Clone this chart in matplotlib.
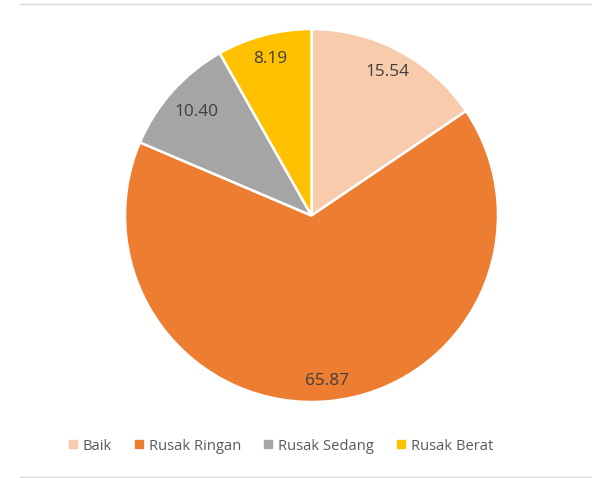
import matplotlib
matplotlib.use("Agg")
import matplotlib.pyplot as plt
from matplotlib.lines import Line2D
import numpy as np

categories = ["Baik", "Rusak Ringan", "Rusak Sedang", "Rusak Berat"]
values = [15.54, 65.87, 10.40, 8.19]
colors = ["#F8CBAD", "#ED7D31", "#A5A5A5", "#FFC000"]
label_dist = [0.87, 0.89, 0.83, 0.87]

plt.rcParams['font.family'] = ['Open Sans', 'DejaVu Sans']

W, H = 592, 478
fig = plt.figure(figsize=(W/100, H/100), dpi=100)
cx, cy, R = 311.5, 215.5, 186.5
ax = fig.add_axes([(cx-R)/W, (H-cy-R)/H, 2*R/W, 2*R/H])
wedges, _ = ax.pie(values, colors=colors, startangle=90, counterclock=False,
                   wedgeprops=dict(edgecolor="white", linewidth=1.8))
for w, v, d in zip(wedges, values, label_dist):
    ang = np.deg2rad((w.theta1 + w.theta2) / 2)
    ax.text(d*np.cos(ang), d*np.sin(ang), f"{v:.2f}", ha="center", va="center",
            color="#404040", fontsize=12.4)
ax.set_xlim(-1, 1)
ax.set_ylim(-1, 1)
ax.set_aspect("auto")
ax.axis("off")

for y in (4, 476.5):
    fig.add_artist(Line2D([20/W, 1], [1-y/H, 1-y/H], transform=fig.transFigure,
                          color="#D9D9D9", linewidth=1.0))

handles = [Line2D([], [], marker="s", linestyle="none", markersize=6,
                  markerfacecolor=c, markeredgecolor=c) for c in colors]
fig.legend(handles, categories, loc="center", ncol=4,
           bbox_to_anchor=(280/W, 1-446/H), frameon=False,
           fontsize=10.6, labelcolor="#595959", handlelength=0.8,
           handletextpad=0.3, columnspacing=1.4)

fig.savefig("out.png", dpi=100, facecolor="white")
